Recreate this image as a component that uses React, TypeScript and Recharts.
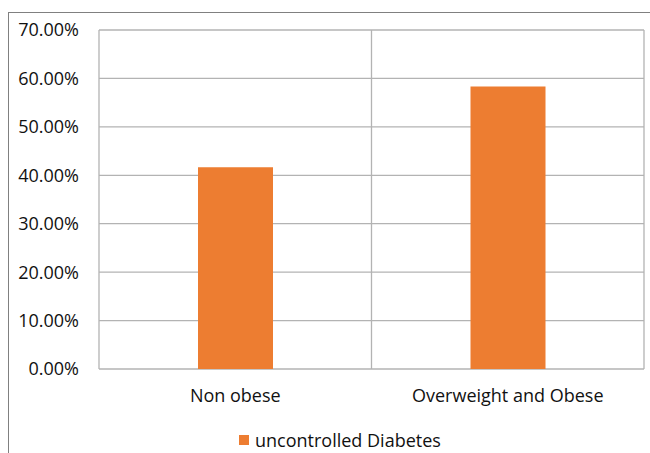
import { BarChart, Bar, XAxis, YAxis, CartesianGrid, Legend } from 'recharts';

const categories = ['Non obese', 'Overweight and Obese'];
const uncontrolled = [41.67, 58.33];
const yTicks = [0, 10, 20, 30, 40, 50, 60, 70];

const data = categories.map((name, i) => ({ name, uncontrolled: uncontrolled[i] }));

const FONT = '"Open Sans", sans-serif';
const ORANGE = '#ED7D31';
const GRID = '#b3b3b3';

const LegendContent = () => (
  <div style={{ display: 'flex', alignItems: 'center', fontFamily: FONT, fontSize: 18, lineHeight: '24px', color: '#111' }}>
    <span style={{ width: 10, height: 10, background: ORANGE, marginRight: 6, display: 'inline-block' }} />
    <span>uncontrolled Diabetes</span>
  </div>
);

export default function App() {
  return (
    <div style={{ position: 'fixed', inset: 0, overflow: 'hidden', background: '#fff' }}>
      <div
        style={{
          position: 'absolute', left: 8, top: 12, width: 700, height: 500,
          border: '1.5px solid #808080',
        }}
      />
      <div style={{ position: 'absolute', left: 0, top: 0 }}>
        <BarChart
          width={650}
          height={453}
          data={data}
          margin={{ top: 30, right: 6, left: 0, bottom: 0 }}
        >
          <CartesianGrid
            stroke={GRID}
            strokeWidth={1.3}
            verticalCoordinatesGenerator={({ offset }: any) => [
              offset.left,
              offset.left + offset.width / 2,
              offset.left + offset.width,
            ]}
          />
          <XAxis
            dataKey="name"
            axisLine={false}
            tickLine={false}
            tickSize={0}
            tickMargin={20}
            height={46}
            tick={{ fill: '#111', fontSize: 18, fontFamily: FONT }}
          />
          <YAxis
            domain={[0, 70]}
            ticks={yTicks}
            interval={0}
            width={99}
            axisLine={false}
            tickLine={false}
            tickSize={0}
            tickMargin={20}
            tickFormatter={(v: number) => `${v.toFixed(2)}%`}
            tick={{ fill: '#111', fontSize: 18, fontFamily: FONT }}
          />
          <Legend
            content={<LegendContent />}
            wrapperStyle={{ left: 239, top: 428, bottom: 'auto', width: 'auto', height: 38 }}
          />
          <Bar dataKey="uncontrolled" fill={ORANGE} barSize={75} isAnimationActive={false} />
        </BarChart>
      </div>
    </div>
  );
}
